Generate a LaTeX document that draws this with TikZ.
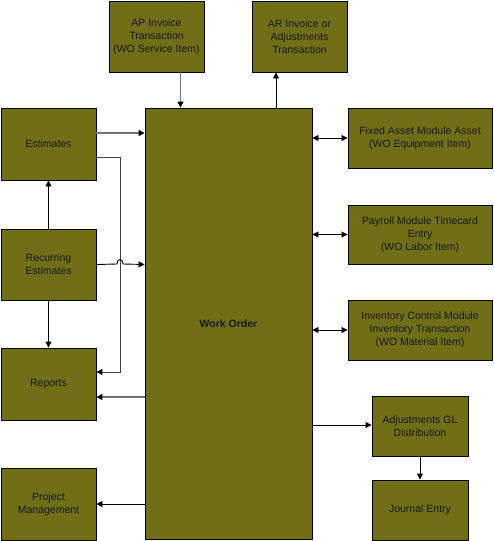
\documentclass[tikz,border=0pt]{standalone}
\usepackage{fontspec}
\setmainfont{Liberation Sans}
\usetikzlibrary{arrows.meta}
\definecolor{olivebox}{RGB}{112,110,22}
\definecolor{linegray}{RGB}{115,115,115}
\begin{document}
\begin{tikzpicture}[x=1pt,y=-1pt,
  box/.style={draw=black,line width=0.9pt,fill=olivebox,align=center,inner sep=1pt,
    font=\fontsize{10.5}{12.8}\selectfont,text=black!90},
  arr/.style={line width=0.9pt,-{Triangle[length=6pt,width=6pt,fill=black,color=black]}},
  darr/.style={line width=0.9pt,{Triangle[length=6pt,width=6pt]}-{Triangle[length=6pt,width=6pt]}},
  garr/.style={line width=1.4pt,draw=linegray,-{Triangle[length=6pt,width=6pt,color=black]}}]
\useasboundingbox (0,0) rectangle (493,541);
\node[box,minimum width=167,minimum height=431,font=\fontsize{10.5}{12.8}\selectfont\bfseries] (wo) at (228.5,323.5) {Work Order};
\node[box,minimum width=95,minimum height=72] (est) at (48.5,144) {Estimates};
\node[box,minimum width=95,minimum height=71] (rec) at (48.5,264.5) {Recurring\\Estimates};
\node[box,minimum width=95,minimum height=72] (rep) at (48.5,384) {Reports};
\node[box,minimum width=95,minimum height=72] (pm) at (48.5,504) {Project\\Management};
\node[box,minimum width=95,minimum height=71] (ap) at (156.5,36.5) {AP Invoice\\Transaction\\(WO Service Item)};
\node[box,minimum width=95,minimum height=71] (ar) at (299.5,36.5) {AR Invoice or\\Adjustments\\Transaction};
\node[box,minimum width=144,minimum height=60] (fa) at (420,138) {Fixed Asset Module Asset\\(WO Equipment Item)};
\node[box,minimum width=144,minimum height=59] (pay) at (420,234.5) {Payroll Module Timecard\\Entry\\(WO Labor Item)};
\node[box,minimum width=144,minimum height=60] (inv) at (420,330) {Inventory Control Module\\Inventory Transaction\\(WO Material Item)};
\node[box,minimum width=96,minimum height=60] (gl) at (420,426) {Adjustments GL\\Distribution};
\node[box,minimum width=96,minimum height=60] (je) at (420,510) {Journal Entry};
% connectors
\draw[garr] ([yshift=11pt]est.east) -- ([yshift=11pt]est.east -| wo.west);
\draw[line width=1pt,draw=black!75,-{Triangle[length=6pt,width=6pt,color=black]}] ([yshift=-13pt]est.east) -- ++(24,0) coordinate (tap) |- ([yshift=12pt]rep.east);
\draw[arr] (rec.east) -- (117,264) .. controls (117,258) and (123,258) .. (123,264) -- (rec.east -| wo.west);
\draw[arr] (rec.north) -- (est.south);
\draw[arr] (rec.south) -- (rep.north);
\draw[garr] ([yshift=-13pt]rep.east -| wo.west) -- ([yshift=-13pt]rep.east);
\draw[arr] (pm.east -| wo.west) -- (pm.east);
\draw[garr] ([xshift=24pt]ap.south) -- ([xshift=24pt]ap.south |- wo.north);
\draw[arr] ([xshift=-23.5pt]ar.south |- wo.north) -- ([xshift=-23.5pt]ar.south);
\draw[darr] (fa.west -| wo.east) -- (fa.west);
\draw[darr] (pay.west -| wo.east) -- (pay.west);
\draw[darr] (inv.west -| wo.east) -- (inv.west);
\draw[arr] ([yshift=1pt]gl.west -| wo.east) -- ([yshift=1pt]gl.west);
\draw[arr] (gl.south) -- (je.north);
\end{tikzpicture}
\end{document}
